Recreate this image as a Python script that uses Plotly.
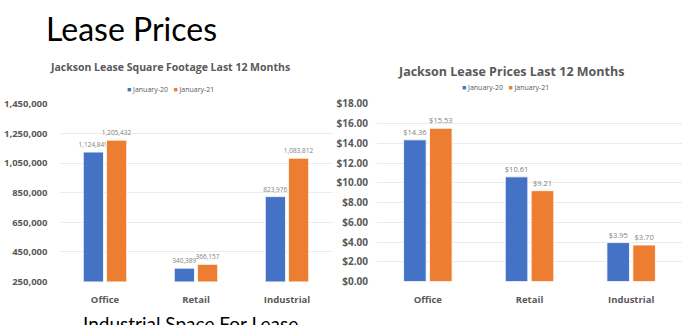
import plotly.graph_objects as go

categories = ["Office", "Retail", "Industrial"]
series_names = ["January-20", "January-21"]
sqft_jan20 = [1124849, 340389, 823976]
sqft_jan21 = [1205432, 366157, 1083812]
price_jan20 = [14.36, 10.61, 3.95]
price_jan21 = [15.53, 9.21, 3.70]
sqft_ticks = [250000, 450000, 650000, 850000, 1050000, 1250000, 1450000]
price_ticks = [0, 2, 4, 6, 8, 10, 12, 14, 16, 18]

BLUE = "#4472C4"
ORANGE = "#ED7D31"
GRAY = "#595959"
W, H = 696, 325

def px_x(p):
    return p / W

def px_y(p):
    return (H - p) / H

fig = go.Figure()

for name, vals, col in [(series_names[0], sqft_jan20, BLUE), (series_names[1], sqft_jan21, ORANGE)]:
    fig.add_trace(go.Bar(
        x=categories, y=vals, name=name, marker=dict(color=col, line=dict(color="white", width=0.8)),
        texttemplate="%{y:,}", textposition="outside", constraintext="none",
        textfont=dict(size=6.5, color="#7F7F7F", family="Open Sans"),
        cliponaxis=False, xaxis="x", yaxis="y", showlegend=False,
    ))

for name, vals, col in [(series_names[0], price_jan20, BLUE), (series_names[1], price_jan21, ORANGE)]:
    fig.add_trace(go.Bar(
        x=categories, y=vals, name=name, marker=dict(color=col, line=dict(color="white", width=0.8)),
        texttemplate="$%{y:.2f}", textposition="outside", constraintext="none",
        textfont=dict(size=7.5, color="#7F7F7F", family="Open Sans"),
        cliponaxis=False, xaxis="x2", yaxis="y2", showlegend=False,
    ))

cat_text = ["<b>%s</b>" % c for c in categories]
sqft_text = ["<b>{:,}</b>".format(v) for v in sqft_ticks]
price_text = ["<b>${:.2f}</b>".format(v) for v in price_ticks]

ydom = [px_y(286), px_y(101)]
tickfont = dict(size=9.5, color=GRAY, family="Open Sans")

def legend_text():
    return ("<span style='color:%s'>■</span> %s &nbsp; <span style='color:%s'>■</span> %s"
            % (BLUE, series_names[0], ORANGE, series_names[1]))

fig.update_layout(
    width=W, height=H,
    margin=dict(l=0, r=0, t=0, b=0),
    paper_bgcolor="white", plot_bgcolor="white",
    barmode="group", bargap=0.49, bargroupgap=0.13,
    hovermode=False, showlegend=False,
    font=dict(family="Open Sans", color=GRAY),
    xaxis=dict(domain=[px_x(59.5), px_x(332.5)], anchor="y", showgrid=False, showline=False,
               ticks="", tickvals=categories, ticktext=cat_text, tickfont=tickfont,
               ticklabelstandoff=11),
    yaxis=dict(domain=ydom, anchor="x", range=[250000, 1450000], tickvals=sqft_ticks,
               ticktext=sqft_text, showgrid=True, gridcolor="#EBEBEB", gridwidth=1, zeroline=False,
               showline=False, ticks="", tickfont=tickfont, ticklabelstandoff=11),
    xaxis2=dict(domain=[px_x(377), px_x(682)], anchor="y2", showgrid=False, showline=False,
                ticks="", tickvals=categories, ticktext=cat_text, tickfont=tickfont,
                ticklabelstandoff=11),
    yaxis2=dict(domain=ydom, anchor="x2", range=[0, 18], tickvals=price_ticks,
                ticktext=price_text, showgrid=True, gridcolor="#EBEBEB", gridwidth=1,
                zeroline=False, showline=False, ticks="", tickfont=dict(size=10, color=GRAY, family="Open Sans"),
                ticklabelstandoff=8),
    annotations=[
        dict(text="Lease Prices", x=px_x(44), y=px_y(22), xref="paper", yref="paper",
             xanchor="left", yanchor="middle", showarrow=False,
             font=dict(family="Lato", size=32, color="black")),
        dict(text="<b>Jackson Lease Square Footage Last 12 Months</b>", x=px_x(170), y=px_y(63),
             xref="paper", yref="paper", xanchor="center", yanchor="middle", showarrow=False,
             font=dict(family="Open Sans", size=10.5, color=GRAY)),
        dict(text="<b>Jackson Lease Prices Last 12 Months</b>", x=px_x(511), y=px_y(67),
             xref="paper", yref="paper", xanchor="center", yanchor="middle", showarrow=False,
             font=dict(family="Open Sans", size=12.5, color=GRAY)),
        dict(text=legend_text(), x=px_x(170), y=px_y(86), xref="paper", yref="paper",
             xanchor="center", yanchor="middle", showarrow=False,
             font=dict(family="Open Sans", size=7, color=GRAY)),
        dict(text=legend_text(), x=px_x(505), y=px_y(84), xref="paper", yref="paper",
             xanchor="center", yanchor="middle", showarrow=False,
             font=dict(family="Open Sans", size=7, color=GRAY)),
        dict(text="Industrial Space For Lease", x=px_x(190), y=px_y(330),
             xref="paper", yref="paper", xanchor="center", yanchor="middle", showarrow=False,
             font=dict(family="Lato", size=19, color="black")),
    ],
)

fig.write_html("out.html")
